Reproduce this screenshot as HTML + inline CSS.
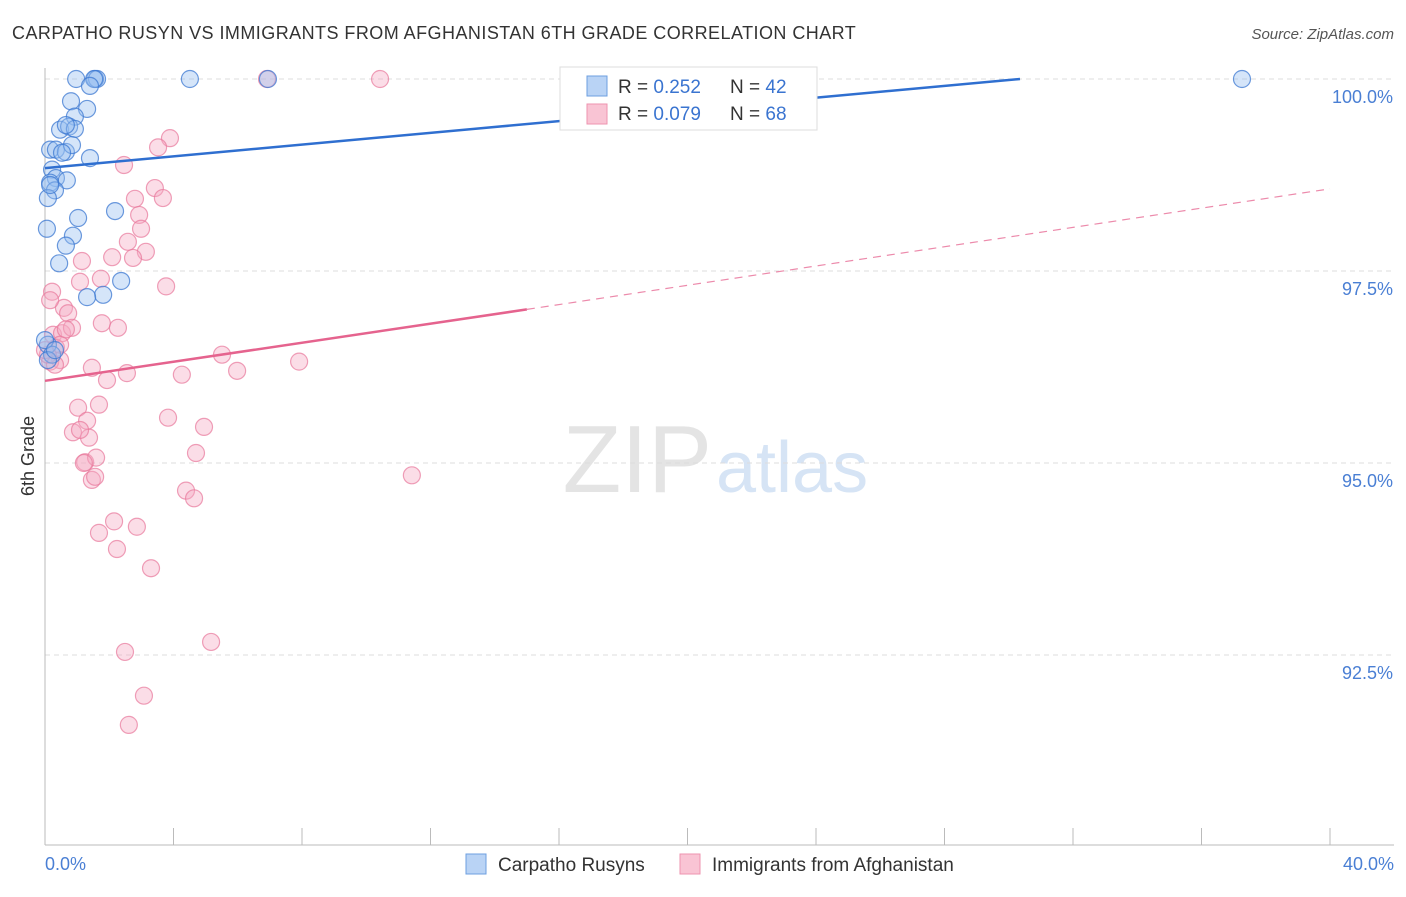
<!DOCTYPE html>
<html><head><meta charset="utf-8"><style>
body{margin:0;background:#fff;font-family:"Liberation Sans",sans-serif;}
svg text{font-family:"Liberation Sans",sans-serif;}
</style></head><body>
<svg id="chart" width="1406" height="892">
<text x="12" y="39" font-size="18" fill="#333" letter-spacing="0.45">CARPATHO RUSYN VS IMMIGRANTS FROM AFGHANISTAN 6TH GRADE CORRELATION CHART</text>
<text x="1394" y="39" font-size="15" fill="#555" font-style="italic" text-anchor="end">Source: ZipAtlas.com</text>
<text x="712" y="492" font-size="96" fill="#e4e4e4" text-anchor="end" font-family="Liberation Serif">ZIP</text>
<text x="716" y="492" font-size="72" fill="#d6e4f5">atlas</text>
<g id="grid"></g>
<line x1="45" y1="68" x2="45" y2="845" stroke="#bbb"/>
<line x1="45" y1="845" x2="1394" y2="845" stroke="#bbb"/>
<text x="34" y="456" font-size="18" fill="#333" transform="rotate(-90 34 456)" text-anchor="middle">6th Grade</text>
<text x="45" y="870" font-size="18" fill="#4a7fd4">0.0%</text>
<text x="1394" y="870" font-size="18" fill="#4a7fd4" text-anchor="end">40.0%</text>
<g id="pts"></g>
<g id="lines"></g>
<g>
<rect x="560" y="67" width="257" height="63" fill="#fff" stroke="#ddd"/>
<rect x="587" y="76" width="20" height="20" fill="#b9d3f5" stroke="#6d9fe0"/>
<rect x="587" y="104" width="20" height="20" fill="#f9c4d4" stroke="#ee93af"/>
<text x="618" y="93" font-size="19" fill="#333">R = <tspan fill="#3a74d0">0.252</tspan></text>
<text x="730" y="93" font-size="19" fill="#333">N = <tspan fill="#3a74d0">42</tspan></text>
<text x="618" y="120" font-size="19" fill="#333">R = <tspan fill="#3a74d0">0.079</tspan></text>
<text x="730" y="120" font-size="19" fill="#333">N = <tspan fill="#3a74d0">68</tspan></text>
</g>
<g>
<rect x="466" y="854" width="20" height="20" fill="#b9d3f5" stroke="#6d9fe0"/>
<text x="498" y="871" font-size="19" fill="#333">Carpatho Rusyns</text>
<rect x="680" y="854" width="20" height="20" fill="#f9c4d4" stroke="#ee93af"/>
<text x="712" y="871" font-size="19" fill="#333">Immigrants from Afghanistan</text>
</g>
</svg>
<script>
const yTicks=[100,97.5,95,92.5];
const yTickLabels=["100.0%","97.5%","95.0%","92.5%"];
const xTicks=[0,4,8,12,16,20,24,28,32,36,40];
const blueX=[0.97,1.56,1.62,1.53,4.51,6.94,37.26,1.40,0.81,1.31,0.93,0.47,0.75,0.93,0.65,0.16,0.34,0.65,0.84,0.53,1.40,0.22,0.34,0.16,0.68,0.31,0.09,0.06,1.03,2.18,0.87,0.65,0.44,2.37,1.81,1.31,0.09,0.22,0,0.09,0.31,0.16];
const blueY=[100,100,100,100,100,100,100,99.91,99.71,99.61,99.51,99.34,99.38,99.35,99.40,99.08,99.08,99.05,99.14,99.04,98.97,98.82,98.71,98.65,98.68,98.55,98.45,98.05,98.19,98.28,97.96,97.83,97.60,97.37,97.19,97.16,96.54,96.41,96.60,96.34,96.47,98.62];
const pinkX=[6.91,10.43,3.89,3.52,2.46,3.42,2.80,3.67,2.93,2.99,2.58,3.14,2.09,2.74,1.15,1.74,1.09,3.77,0.22,0.59,0.72,1.77,2.27,0.25,0.53,0.84,0.34,0.47,0.16,5.51,7.91,5.98,1.46,2.55,1.93,4.26,1.03,1.68,3.83,1.31,0.87,1.37,4.95,4.70,1.25,1.59,1.46,11.42,4.39,4.64,2.15,2.86,1.68,2.24,3.30,5.17,2.49,3.08,2.61,0.09,0,0.31,0.47,0.65,0.16,1.21,1.56,1.09];
const pinkY=[100,100,99.23,99.11,98.88,98.58,98.44,98.45,98.23,98.05,97.88,97.75,97.68,97.67,97.63,97.40,97.36,97.30,97.23,97.02,96.95,96.82,96.76,96.67,96.69,96.76,96.50,96.34,96.32,96.41,96.32,96.20,96.24,96.17,96.08,96.15,95.72,95.76,95.59,95.55,95.40,95.33,95.47,95.13,95.01,95.07,94.78,94.84,94.64,94.54,94.24,94.17,94.09,93.88,93.63,92.67,92.54,91.97,91.59,96.41,96.47,96.28,96.54,96.74,97.12,95.00,94.82,95.43];
const blueTrend=[0,98.84,30.35,100];
const pinkTrend=[0,96.07,15,97.0,40,98.57];
const NS="http://www.w3.org/2000/svg";
function sx(v){return 45+v*(1285/40);}
function sy(v){return 79+(100-v)*76.8;}
function mk(t,a,p){const e=document.createElementNS(NS,t);for(const k in a)e.setAttribute(k,a[k]);p.appendChild(e);return e;}
const grid=document.getElementById('grid');
yTicks.forEach((t,i)=>{
 const l=mk('line',{x1:45,x2:1394,y1:sy(t),y2:sy(t),stroke:'#ddd','stroke-dasharray':'5,4'},grid);
 
 
 const tx=mk('text',{x:1393,y:sy(t)+24,'font-size':18,fill:'#4a7fd4','text-anchor':'end'},grid);
 tx.textContent=yTickLabels[i];
 
 
});
xTicks.forEach(t=>{
 const l=mk('line',{x1:sx(t),x2:sx(t),y1:828,y2:845,stroke:'#bbb'},grid);
 
 
});
const pts=document.getElementById('pts');
pinkX.forEach((x,i)=>{
 const c=mk('circle',{cx:sx(x),cy:sy(pinkY[i]),r:8.5,fill:'rgba(246,170,195,0.4)',stroke:'rgba(232,120,155,0.7)','stroke-width':1.2},pts);
 
 
});
blueX.forEach((x,i)=>{
 const c=mk('circle',{cx:sx(x),cy:sy(blueY[i]),r:8.5,fill:'rgba(150,190,240,0.4)',stroke:'rgba(60,120,210,0.75)','stroke-width':1.2},pts);
 
 
});
const lines=document.getElementById('lines');
const bl=mk('line',{x1:sx(blueTrend[0]),y1:sy(blueTrend[1]),x2:sx(blueTrend[2]),y2:sy(blueTrend[3]),stroke:'#2f6fd0','stroke-width':2.5},lines);


const pl=mk('line',{x1:sx(pinkTrend[0]),y1:sy(pinkTrend[1]),x2:sx(pinkTrend[2]),y2:sy(pinkTrend[3]),stroke:'#e5638e','stroke-width':2.5},lines);


const pd=mk('line',{x1:sx(pinkTrend[2]),y1:sy(pinkTrend[3]),x2:sx(pinkTrend[4]),y2:sy(pinkTrend[5]),stroke:'#ec8aab','stroke-width':1.2,'stroke-dasharray':'8,6'},lines);


</script>
</body></html>
